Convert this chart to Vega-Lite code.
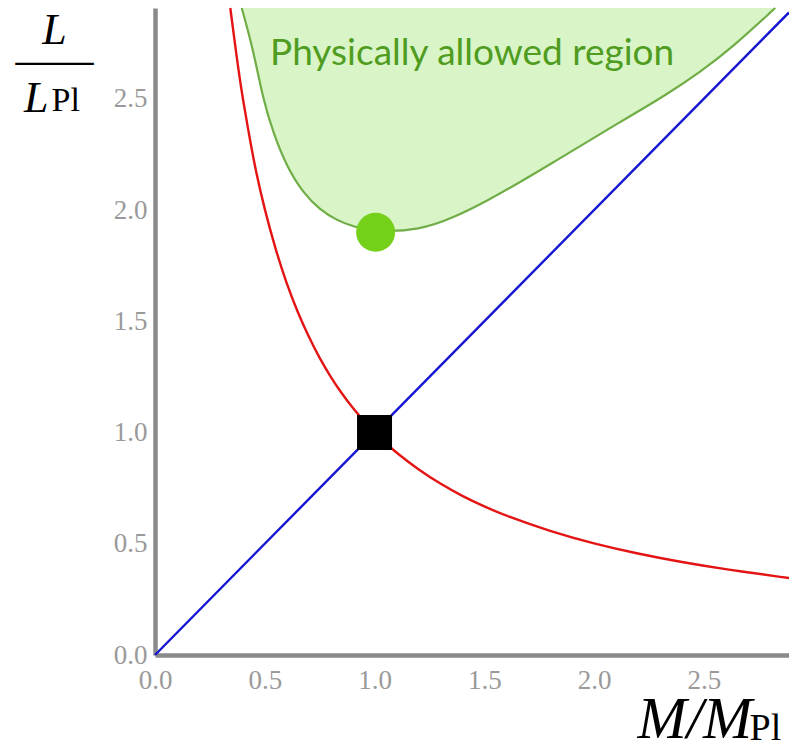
{
  "$schema": "https://vega.github.io/schema/vega-lite/v6.json",
  "width": 634,
  "height": 647,
  "autosize": "none",
  "padding": {"left": 155, "top": 8, "right": 0, "bottom": 95},
  "background": "white",
  "config": {"view": {"stroke": null}},
  "title": {
    "text": "L", "orient": "top", "anchor": "start", "frame": "group", "offset": 0,
    "font": "Liberation Serif", "fontStyle": "italic", "fontWeight": "normal", "fontSize": 44,
    "color": "black", "baseline": "alphabetic", "align": "left", "dx": -131, "dy": 153
  },
  "datasets": {
    "green": [
      {"x": 0.395, "y": 2.908}, {"x": 0.448, "y": 2.719}, {"x": 0.493, "y": 2.494},
      {"x": 0.539, "y": 2.346}, {"x": 0.6, "y": 2.195}, {"x": 0.676, "y": 2.075},
      {"x": 0.752, "y": 2.0}, {"x": 0.828, "y": 1.954}, {"x": 0.903, "y": 1.925},
      {"x": 1.007, "y": 1.902}, {"x": 1.207, "y": 1.91}, {"x": 1.359, "y": 1.965},
      {"x": 1.511, "y": 2.04}, {"x": 1.663, "y": 2.125}, {"x": 1.815, "y": 2.215},
      {"x": 1.967, "y": 2.305}, {"x": 2.118, "y": 2.395}, {"x": 2.179, "y": 2.43},
      {"x": 2.331, "y": 2.52}, {"x": 2.483, "y": 2.62}, {"x": 2.635, "y": 2.735},
      {"x": 2.825, "y": 2.908}
    ],
    "red": [
      {"x": 0.343, "y": 2.908}, {"x": 0.36, "y": 2.78}, {"x": 0.38, "y": 2.63},
      {"x": 0.4, "y": 2.5}, {"x": 0.43, "y": 2.33}, {"x": 0.46, "y": 2.17},
      {"x": 0.5, "y": 2.0}, {"x": 0.55, "y": 1.82}, {"x": 0.6, "y": 1.667},
      {"x": 0.65, "y": 1.54}, {"x": 0.7, "y": 1.43}, {"x": 0.75, "y": 1.333},
      {"x": 0.8, "y": 1.25}, {"x": 0.85, "y": 1.176}, {"x": 0.9, "y": 1.111},
      {"x": 0.95, "y": 1.053}, {"x": 1.0, "y": 1.0}, {"x": 1.05, "y": 0.952},
      {"x": 1.1, "y": 0.909}, {"x": 1.2, "y": 0.833}, {"x": 1.3, "y": 0.769},
      {"x": 1.4, "y": 0.714}, {"x": 1.5, "y": 0.667}, {"x": 1.6, "y": 0.625},
      {"x": 1.8, "y": 0.556}, {"x": 2.0, "y": 0.5}, {"x": 2.2, "y": 0.455},
      {"x": 2.4, "y": 0.417}, {"x": 2.6, "y": 0.385}, {"x": 2.888, "y": 0.346}
    ],
    "blue": [{"x": 0, "y": 0}, {"x": 2.888, "y": 2.888}],
    "label": [{"x": 0.524, "y": 2.652, "text": "Physically allowed region"}],
    "circlePt": [{"x": 1.005, "y": 1.9}],
    "squarePt": [{"x": 1.0, "y": 1.0}]
  },
  "layer": [
    {
      "layer": [
        {
          "data": {"name": "green"},
          "mark": {"type": "area", "interpolate": "basis", "color": "#d9f5c8", "opacity": 1},
          "encoding": {
            "x": {
              "field": "x", "type": "quantitative",
              "scale": {"domain": [0, 2.888], "nice": false, "zero": false},
              "axis": {
                "values": [0, 0.5, 1, 1.5, 2, 2.5], "format": ".1f", "grid": false,
                "ticks": false, "tickSize": 0, "domainColor": "#8a8a8a", "domainWidth": 4.5,
                "labelFont": "Liberation Serif", "labelFontSize": 27, "labelColor": "#9a9a9a",
                "labelPadding": 12, "labelFlush": false, "labelOverlap": false,
                "title": "M/M", "titleFont": "Liberation Serif", "titleFontStyle": "italic",
                "titleFontWeight": "normal", "titleFontSize": 59, "titleColor": "black",
                "titleAlign": "left", "titleBaseline": "alphabetic", "titleAngle": 0,
                "titleX": 482, "titleY": 82
              }
            },
            "y": {
              "field": "y", "type": "quantitative",
              "scale": {"domain": [0, 2.908], "nice": false, "zero": false},
              "axis": {
                "values": [0, 0.5, 1, 1.5, 2, 2.5], "format": ".1f", "grid": false,
                "ticks": false, "tickSize": 0, "domainColor": "#8a8a8a", "domainWidth": 4.5,
                "labelFont": "Liberation Serif", "labelFontSize": 27, "labelColor": "#9a9a9a",
                "labelPadding": 8, "labelFlush": false, "labelOverlap": false,
                "title": ["L", "——"], "titleFont": "Liberation Serif",
                "titleFontStyle": "italic", "titleFontWeight": "normal", "titleFontSize": 44,
                "titleColor": "black", "titleAlign": "center", "titleBaseline": "alphabetic",
                "titleAngle": 0, "titleX": -101, "titleY": 35, "titleLineHeight": 30
              }
            },
            "y2": {"datum": 2.908}
          }
        },
        {
          "data": {"name": "green"},
          "mark": {"type": "line", "interpolate": "basis", "color": "#70ad47", "strokeWidth": 2.2},
          "encoding": {
            "x": {"field": "x", "type": "quantitative", "scale": {"domain": [0, 2.888], "nice": false, "zero": false}},
            "y": {"field": "y", "type": "quantitative", "scale": {"domain": [0, 2.908], "nice": false, "zero": false}}
          }
        },
        {
          "data": {"name": "red"},
          "mark": {"type": "line", "interpolate": "basis", "color": "#e41414", "strokeWidth": 2.4},
          "encoding": {
            "x": {"field": "x", "type": "quantitative", "scale": {"domain": [0, 2.888], "nice": false, "zero": false}},
            "y": {"field": "y", "type": "quantitative", "scale": {"domain": [0, 2.908], "nice": false, "zero": false}}
          }
        },
        {
          "data": {"name": "blue"},
          "mark": {"type": "line", "color": "#1515d2", "strokeWidth": 2.4},
          "encoding": {
            "x": {"field": "x", "type": "quantitative", "scale": {"domain": [0, 2.888], "nice": false, "zero": false}},
            "y": {"field": "y", "type": "quantitative", "scale": {"domain": [0, 2.908], "nice": false, "zero": false}}
          }
        },
        {
          "data": {"name": "label"},
          "mark": {"type": "text", "font": "Lato", "fontSize": 37, "color": "#4f9c1f", "align": "left", "baseline": "alphabetic"},
          "encoding": {
            "x": {"field": "x", "type": "quantitative", "scale": {"domain": [0, 2.888], "nice": false, "zero": false}},
            "y": {"field": "y", "type": "quantitative", "scale": {"domain": [0, 2.908], "nice": false, "zero": false}},
            "text": {"field": "text"}
          }
        }
      ]
    },
    {
      "layer": [
        {
          "data": {"name": "circlePt"},
          "mark": {"type": "circle", "size": 1520, "color": "#75d01a", "opacity": 1},
          "encoding": {
            "x": {
              "field": "x", "type": "quantitative",
              "scale": {"domain": [0, 2.888], "nice": false, "zero": false},
              "axis": {
                "orient": "top", "labels": false, "ticks": false, "domain": false, "grid": false,
                "title": "Pl", "titleFont": "Liberation Serif", "titleFontStyle": "normal",
                "titleFontWeight": "normal", "titleFontSize": 38, "titleColor": "black",
                "titleAlign": "left", "titleBaseline": "alphabetic", "titleAngle": 0,
                "titleX": 594, "titleY": 731
              }
            },
            "y": {
              "field": "y", "type": "quantitative",
              "scale": {"domain": [0, 2.908], "nice": false, "zero": false},
              "axis": {
                "orient": "right", "labels": false, "ticks": false, "domain": false, "grid": false,
                "title": "Pl", "titleFont": "Liberation Serif", "titleFontStyle": "normal",
                "titleFontWeight": "normal", "titleFontSize": 34, "titleColor": "black",
                "titleAlign": "left", "titleBaseline": "alphabetic", "titleAngle": 0,
                "titleX": -738, "titleY": 102
              }
            }
          }
        },
        {
          "data": {"name": "squarePt"},
          "mark": {"type": "square", "size": 1225, "color": "black", "opacity": 1},
          "encoding": {
            "x": {"field": "x", "type": "quantitative", "scale": {"domain": [0, 2.888], "nice": false, "zero": false}},
            "y": {"field": "y", "type": "quantitative", "scale": {"domain": [0, 2.908], "nice": false, "zero": false}}
          }
        }
      ]
    }
  ],
  "resolve": {"axis": {"x": "independent", "y": "independent"}}
}
